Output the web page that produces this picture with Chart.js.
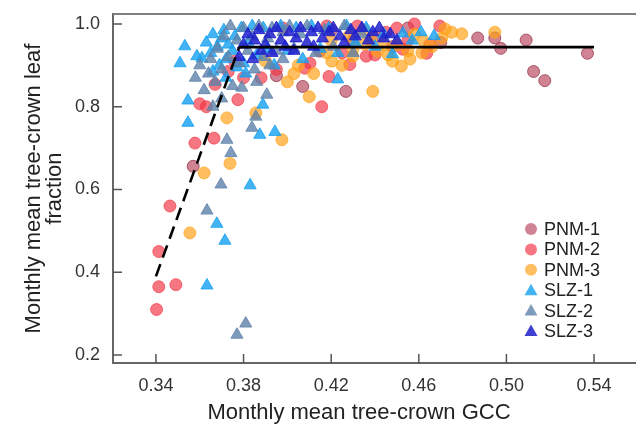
<!DOCTYPE html>
<html>
<head>
<meta charset="utf-8">
<script src="https://cdn.jsdelivr.net/npm/chart.js"></script>
<style>
    body { margin: 0; background: #fff; }
    #wrap { width: 636px; height: 424px; }
</style>
</head>
<body>
<div id="wrap"><canvas id="gccChart" width="636" height="424"></canvas></div>
<script>
/* --------------------------
   DATA  ([GCC, leaf fraction] per site-month)
--------------------------- */
const xTicks = [0.34, 0.38, 0.42, 0.46, 0.50, 0.54];
const yTicks = [0.2, 0.4, 0.6, 0.8, 1.0];
const siteNames = ['PNM-1', 'PNM-2', 'PNM-3', 'SLZ-1', 'SLZ-2', 'SLZ-3'];

const pnm1 = [
    [0.357, 0.656], [0.407, 0.849], [0.4267, 0.837], [0.4869, 0.966], [0.4947, 0.966],
    [0.4974, 0.941], [0.509, 0.961], [0.5124, 0.885], [0.5175, 0.863], [0.537, 0.929],
    [0.44, 0.97], [0.455, 0.99], [0.47, 0.955], [0.43, 0.96], [0.395, 0.875],
    [0.42, 0.985], [0.448, 0.945]
];

const pnm2 = [
    [0.3403, 0.31], [0.3413, 0.365], [0.3413, 0.45], [0.3464, 0.56], [0.3491, 0.37],
    [0.3578, 0.712], [0.3665, 0.724], [0.36, 0.807], [0.3774, 0.817], [0.367, 0.854],
    [0.373, 0.885], [0.4157, 0.80], [0.419, 0.873], [0.4103, 0.905], [0.408, 0.893],
    [0.4285, 0.902], [0.4148, 0.934], [0.436, 0.922], [0.4527, 0.939], [0.4636, 0.929],
    [0.458, 1.0], [0.4696, 0.995], [0.425, 0.93], [0.44, 0.925], [0.445, 0.98],
    [0.45, 0.99], [0.455, 0.96], [0.465, 0.95], [0.398, 0.99], [0.395, 0.89],
    [0.388, 0.87], [0.418, 0.995], [0.432, 0.995], [0.38, 0.87], [0.376, 0.91], [0.363, 0.80]
];

const pnm3 = [
    [0.3555, 0.495], [0.362, 0.64], [0.3724, 0.773], [0.3856, 0.785], [0.3738, 0.663],
    [0.3975, 0.72], [0.40, 0.86], [0.410, 0.824], [0.439, 0.837], [0.452, 0.898],
    [0.4796, 0.976], [0.4947, 0.98], [0.4353, 0.951], [0.441, 0.934], [0.472, 0.988],
    [0.4705, 0.966], [0.4614, 0.93], [0.4299, 0.922], [0.4203, 0.91], [0.405, 0.90],
    [0.412, 0.88], [0.418, 0.93], [0.425, 0.90], [0.43, 0.94], [0.438, 0.96],
    [0.446, 0.925], [0.45, 0.95], [0.455, 0.935], [0.458, 0.975], [0.462, 0.96],
    [0.466, 0.945], [0.475, 0.98], [0.448, 0.91], [0.435, 0.985], [0.428, 0.97],
    [0.42, 0.96], [0.444, 0.95], [0.456, 0.915], [0.403, 0.88], [0.39, 0.91]
];

const slz1 = [
    [0.3532, 0.946], [0.351, 0.905], [0.3587, 0.922], [0.361, 0.917], [0.3546, 0.815],
    [0.3546, 0.761], [0.3678, 0.517], [0.3715, 0.476], [0.3633, 0.368], [0.383, 0.61],
    [0.3874, 0.732], [0.3888, 0.805], [0.3943, 0.739], [0.423, 0.866], [0.448, 0.927],
    [0.363, 0.955], [0.365, 0.93], [0.366, 0.975], [0.368, 0.945], [0.369, 0.90],
    [0.37, 0.965], [0.371, 0.985], [0.372, 0.915], [0.373, 0.95], [0.375, 0.935],
    [0.376, 0.97], [0.377, 0.895], [0.379, 0.99], [0.38, 0.905], [0.382, 0.955],
    [0.384, 0.995], [0.386, 0.925], [0.389, 0.99], [0.391, 0.94], [0.394, 0.90],
    [0.397, 0.995], [0.40, 0.935], [0.404, 0.99], [0.407, 0.915], [0.411, 0.995],
    [0.415, 0.94], [0.419, 0.99], [0.423, 0.93], [0.427, 0.995], [0.431, 0.955],
    [0.436, 0.99], [0.44, 0.945], [0.444, 0.975], [0.4527, 0.977], [0.461, 0.98],
    [0.467, 0.971], [0.457, 0.96], [0.372, 0.87], [0.366, 0.885], [0.381, 0.88]
];

const slz2 = [
    [0.3697, 0.612], [0.3633, 0.549], [0.381, 0.276], [0.377, 0.249], [0.3724, 0.72],
    [0.3742, 0.688], [0.3856, 0.776], [0.3838, 0.749], [0.3906, 0.829], [0.3792, 0.846],
    [0.358, 0.87], [0.36, 0.90], [0.362, 0.84], [0.364, 0.88], [0.365, 0.915],
    [0.367, 0.86], [0.368, 0.94], [0.37, 0.89], [0.371, 0.97], [0.373, 0.92],
    [0.374, 0.995], [0.375, 0.85], [0.377, 0.96], [0.378, 0.905], [0.38, 0.99],
    [0.382, 0.935], [0.384, 0.97], [0.385, 0.89], [0.387, 0.995], [0.389, 0.92],
    [0.391, 0.965], [0.393, 0.99], [0.395, 0.935], [0.398, 0.98], [0.401, 0.995],
    [0.403, 0.94], [0.406, 0.975], [0.409, 0.995], [0.413, 0.93], [0.417, 0.985],
    [0.421, 0.945], [0.426, 0.995], [0.43, 0.93], [0.434, 0.975], [0.392, 0.90],
    [0.398, 0.915], [0.386, 0.86], [0.37, 0.82], [0.366, 0.80]
];

const slz3 = [
    [0.378, 0.92], [0.3842, 0.915], [0.38, 0.95], [0.382, 0.975], [0.385, 0.96],
    [0.387, 0.985], [0.39, 0.95], [0.392, 0.975], [0.395, 0.99], [0.397, 0.96],
    [0.399, 0.945], [0.401, 0.98], [0.404, 0.965], [0.406, 0.99], [0.409, 0.955],
    [0.411, 0.98], [0.414, 0.99], [0.416, 0.965], [0.419, 0.98], [0.421, 0.99],
    [0.424, 0.97], [0.426, 0.955], [0.429, 0.985], [0.431, 0.97], [0.434, 0.99],
    [0.437, 0.96], [0.439, 0.98], [0.442, 0.99], [0.444, 0.965], [0.447, 0.975],
    [0.45, 0.96], [0.393, 0.93], [0.403, 0.935], [0.388, 0.935], [0.412, 0.945]
];

// fitted segmented model: rising limb (dashed) + plateau (solid)
const riseLine = [[0.34, 0.39], [0.378, 0.944]];
const plateauLine = [[0.378, 0.944], [0.54, 0.944]];

/* --------------------------
   STYLES
--------------------------- */
const siteStyles = [
    { fill: 'rgba(190, 85, 105, 0.72)', edge: 'rgba(150, 60, 80, 0.8)', shape: 'circle', r: 6 },
    { fill: 'rgba(242, 55, 70, 0.68)', edge: 'rgba(242, 55, 70, 0.68)', shape: 'circle', r: 6 },
    { fill: 'rgba(255, 160, 20, 0.68)', edge: 'rgba(255, 160, 20, 0.68)', shape: 'circle', r: 6 },
    { fill: 'rgba(20, 160, 240, 0.8)', edge: 'rgba(20, 160, 240, 0.8)', shape: 'triangle', r: 7 },
    { fill: 'rgba(95, 130, 170, 0.8)', edge: 'rgba(95, 130, 170, 0.8)', shape: 'triangle', r: 7 },
    { fill: 'rgba(30, 30, 205, 0.85)', edge: 'rgba(30, 30, 205, 0.85)', shape: 'triangle', r: 7 }
];
const siteData = [pnm1, pnm2, pnm3, slz1, slz2, slz3];
// later sites sit on top of earlier ones
const siteOrder = [6, 5, 4, 3, 2, 1];

const toXY = arr => arr.map(p => ({ x: p[0], y: p[1] }));

const datasets = [
    {
        label: 'rise', data: toXY(riseLine), showLine: true, order: 0,
        borderColor: '#000', borderWidth: 2.6, borderDash: [13, 7], pointRadius: 0
    },
    {
        label: 'plateau', data: toXY(plateauLine), showLine: true, order: 0,
        borderColor: '#000', borderWidth: 2.6, pointRadius: 0
    }
];

siteNames.forEach((name, i) => {
    const s = siteStyles[i];
    datasets.push({
        label: name,
        data: toXY(siteData[i]),
        order: siteOrder[i],
        pointStyle: s.shape,
        pointRadius: s.r,
        pointBackgroundColor: s.fill,
        pointBorderColor: s.edge,
        pointBorderWidth: 1
    });
});

/* --------------------------
   FRAME, INWARD TICKS, LEGEND, AXIS TITLES
--------------------------- */
const extras = {
    id: 'extras',
    afterDraw(chart) {
        const { ctx, chartArea: a, scales } = chart;
        ctx.save();

        // top frame line and bottom axis run to the canvas edge
        ctx.strokeStyle = '#808080';
        ctx.lineWidth = 2;
        ctx.beginPath();
        ctx.moveTo(a.left, a.top);
        ctx.lineTo(chart.width, a.top);
        ctx.stroke();
        ctx.strokeStyle = '#666';
        ctx.beginPath();
        ctx.moveTo(a.right - 1, a.bottom);
        ctx.lineTo(chart.width, a.bottom);
        ctx.stroke();

        // tick marks pointing into the plot
        ctx.strokeStyle = '#555';
        ctx.lineWidth = 1.5;
        ctx.beginPath();
        scales.x.ticks.forEach(t => {
            const px = scales.x.getPixelForValue(t.value);
            ctx.moveTo(px, a.bottom);
            ctx.lineTo(px, a.bottom - 9);
        });
        scales.y.ticks.forEach(t => {
            const py = scales.y.getPixelForValue(t.value);
            ctx.moveTo(a.left, py);
            ctx.lineTo(a.left + 9, py);
        });
        ctx.stroke();

        // legend
        ctx.font = '18px "Liberation Sans", Arial, sans-serif';
        ctx.textBaseline = 'middle';
        ctx.textAlign = 'left';
        siteNames.forEach((name, i) => {
            const s = siteStyles[i];
            const lx = 531, ly = 229 + i * 20.4;
            ctx.fillStyle = s.fill;
            ctx.beginPath();
            if (s.shape === 'circle') {
                ctx.arc(lx, ly, 6, 0, Math.PI * 2);
            } else {
                ctx.moveTo(lx, ly - 6.5);
                ctx.lineTo(lx + 6.5, ly + 5);
                ctx.lineTo(lx - 6.5, ly + 5);
                ctx.closePath();
            }
            ctx.fill();
            ctx.fillStyle = '#222';
            ctx.fillText(name, lx + 13, ly + 1);
        });

        // axis titles
        ctx.fillStyle = '#222';
        ctx.font = '22px "Liberation Sans", Arial, sans-serif';
        ctx.textAlign = 'center';
        ctx.textBaseline = 'alphabetic';
        ctx.fillText('Monthly mean tree-crown GCC', 359, 419);

        ctx.translate(0, (a.top + a.bottom) / 2);
        ctx.rotate(-Math.PI / 2);
        ctx.fillText('Monthly mean tree-crown leaf', 0, 40);
        ctx.fillText('fraction', 0, 61);
        ctx.restore();
    }
};

/* --------------------------
   SCATTER CHART
--------------------------- */
const ctx = document.getElementById('gccChart').getContext('2d');

const gccChart = new Chart(ctx, {
    type: 'scatter',
    data: { datasets: datasets },
    options: {
        responsive: false,
        animation: false,
        layout: { padding: { top: 14, right: 0, left: 0, bottom: 0 } },
        scales: {
            x: {
                min: 0.3204,
                max: 0.5555,
                afterBuildTicks: sc => { sc.ticks = xTicks.map(v => ({ value: v })); },
                afterFit: sc => {
                    sc.height = 61;
                    sc.paddingLeft = 0;
                    sc.paddingRight = 0;
                },
                grid: { drawOnChartArea: false, drawTicks: false },
                border: { display: true, color: '#666', width: 2 },
                ticks: {
                    padding: 12,
                    color: '#333',
                    font: { family: '"Liberation Sans", Arial, sans-serif', size: 18 },
                    callback: v => v.toFixed(2)
                }
            },
            y: {
                min: 0.1807,
                max: 1.024,
                afterBuildTicks: sc => { sc.ticks = yTicks.map(v => ({ value: v })); },
                afterFit: sc => {
                    sc.width = 113;
                    sc.paddingTop = 0;
                    sc.paddingBottom = 0;
                },
                grid: { drawOnChartArea: false, drawTicks: false },
                border: { display: true, color: '#666', width: 2 },
                ticks: {
                    padding: 13,
                    color: '#333',
                    font: { family: '"Liberation Sans", Arial, sans-serif', size: 18 },
                    callback: v => v.toFixed(1)
                }
            }
        },
        plugins: {
            legend: { display: false },
            tooltip: { enabled: false }
        }
    },
    plugins: [extras]
});
</script>
</body>
</html>
